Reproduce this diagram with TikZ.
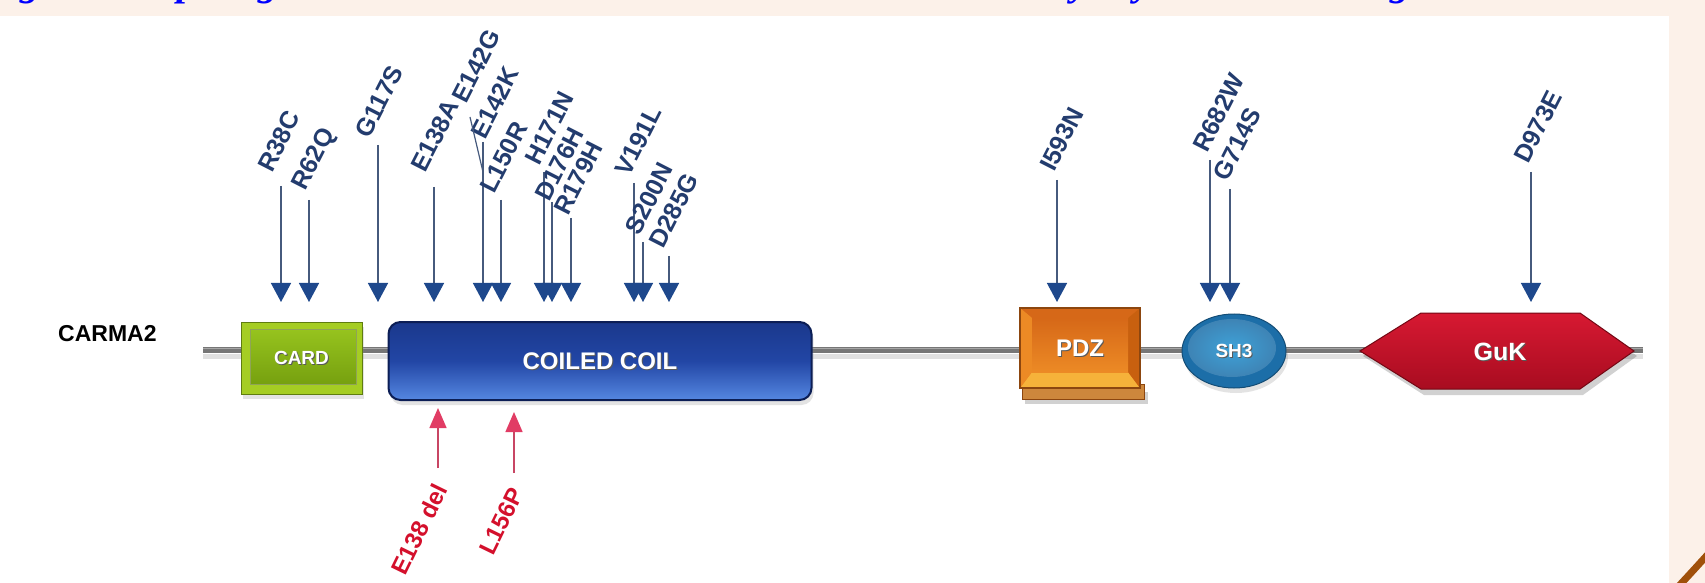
\documentclass[tikz,border=0pt]{standalone}
\usepackage{fontspec}
\setmainfont{Liberation Sans}
\newfontfamily\titleserif{Liberation Serif}
\usetikzlibrary{arrows.meta,shadows,shapes.geometric}
\definecolor{bgbeige}{RGB}{252,241,233}
\definecolor{titleblue}{RGB}{0,0,255}
\definecolor{labnavy}{RGB}{35,60,110}
\definecolor{mutgray}{RGB}{70,90,125}
\definecolor{headblue}{RGB}{30,72,140}
\definecolor{labred}{RGB}{212,16,44}
\definecolor{linered}{RGB}{200,70,100}
\definecolor{headred}{RGB}{225,60,100}
\definecolor{brownline}{RGB}{160,80,10}
\definecolor{bbgray}{RGB}{118,118,118}
\definecolor{cardOuter}{RGB}{165,205,35}
\definecolor{cardEdge}{RGB}{95,125,15}
\definecolor{cardTop}{RGB}{150,195,30}
\definecolor{cardBot}{RGB}{118,160,15}
\definecolor{ccTop}{RGB}{26,56,140}
\definecolor{ccMid}{RGB}{34,70,165}
\definecolor{ccBot}{RGB}{85,135,225}
\definecolor{ccEdge}{RGB}{12,30,85}
\definecolor{pdzFace}{RGB}{230,120,30}
\definecolor{pdzLight}{RGB}{246,178,58}
\definecolor{pdzDark}{RGB}{214,104,24}
\definecolor{pdzSide}{RGB}{236,138,37}
\definecolor{pdzRight}{RGB}{200,96,15}
\definecolor{pdzEdge}{RGB}{140,70,15}
\definecolor{pdzSlab}{RGB}{205,135,60}
\definecolor{shOuter}{RGB}{28,110,168}
\definecolor{shInner}{RGB}{62,162,216}
\definecolor{gukTop}{RGB}{215,25,50}
\definecolor{gukBot}{RGB}{168,12,32}
\definecolor{gukEdge}{RGB}{115,8,20}
\tikzset{
  mutlab/.style={text=labnavy, font=\bfseries\fontsize{12.5}{13}\selectfont, inner sep=0pt, rotate=63, anchor=base west},
  mutarrow/.style={draw=mutgray, line width=0.7pt, -{Triangle[width=10pt,length=9.5pt,color=headblue]}},
  redlab/.style={text=labred, font=\bfseries\fontsize{12}{13}\selectfont, inner sep=0pt, rotate=64, anchor=east},
  redarrow/.style={draw=linered, line width=0.7pt, -{Triangle[width=8.5pt,length=10pt,color=headred]}},
  domtext/.style={text=white, inner sep=0pt},
  domshade/.style={text=black!65, inner sep=0pt},
  frag/.style={text=titleblue, font=\titleserif\bfseries\itshape\fontsize{20}{22}\selectfont, inner sep=0pt, anchor=base},
  softshadow/.style={drop shadow={opacity=0.22, shadow xshift=1pt, shadow yshift=-2.5pt}}
}
\begin{document}
\begin{tikzpicture}[x=0.5pt,y=-0.5pt]
\useasboundingbox (0,0) rectangle (1705,583);
% background
\fill[bgbeige] (0,0) rectangle (1705,583);
\fill[white] (0,16) rectangle (1669,583);
\draw[brownline, line width=3.5pt] (1677,588) .. controls (1690,574) .. (1710,552);
% cut-off title fragments
\begin{scope}
\clip (0,0) rectangle (1705,16);
\foreach \x/\c [count=\i] in {30/g,187/p,268/g,1080/y,1143/y,1400/g}
  \node[frag] (frag\i) at (\x,-4) {\c};
\end{scope}
% backbone
\coordinate (bbL) at (203,350);
\coordinate (bbR) at (1643,350);
\draw[black!12, line width=2.5pt] ([yshift=-3pt]bbL) -- ([yshift=-3pt]bbR);
\draw[bbgray, line width=2.8pt] (bbL) -- (bbR);
\draw[black!35, line width=0.8pt] ([yshift=0.7pt]bbL) -- ([yshift=0.7pt]bbR);
% protein label
\node[anchor=base east, font=\bfseries\fontsize{11.5}{12}\selectfont, inner sep=0pt] (carma) at (157,342) {CARMA2};
% CARD
\node[draw=cardEdge, line width=0.5pt, fill=cardOuter, minimum width=60.5pt, minimum height=36pt, inner sep=0pt, softshadow] (card) at (301.5,358) {};
\shade[top color=cardTop, bottom color=cardBot, draw=cardEdge!70, line width=0.4pt] ([shift={(5pt,-4pt)}]card.north west) rectangle ([shift={(-3pt,5pt)}]card.south east);
\node[domshade, font=\bfseries\fontsize{9.5}{10}\selectfont] (cardsh) at ([shift={(0.5pt,-0.5pt)}]card.center) {CARD};
\node[domtext, font=\bfseries\fontsize{9.5}{10}\selectfont] (cardtx) at (card.center) {CARD};
% COILED COIL
\node[rounded corners=6pt, draw=ccEdge, line width=1pt, top color=ccTop, bottom color=ccBot, middle color=ccMid, minimum width=211.5pt, minimum height=39pt, inner sep=0pt, softshadow] (cc) at (600,361) {};
\node[domshade, font=\bfseries\fontsize{12}{13}\selectfont] (ccsh) at ([shift={(0.5pt,-0.5pt)}]cc.center) {COILED COIL};
\node[domtext, font=\bfseries\fontsize{12}{13}\selectfont] (cctx) at (cc.center) {COILED COIL};
% PDZ
\fill[black, opacity=0.18] (1025,392) rectangle (1148,404);
\fill[pdzSlab, draw=pdzEdge, line width=0.5pt] (1022,384) rectangle (1144,399);
\node[fill=pdzFace, draw=pdzEdge, line width=0.5pt, minimum width=60pt, minimum height=40pt, inner sep=0pt] (pdz) at (1080,348) {};
\fill[pdzDark] (1020,308) -- (1140,308) -- (1128,318) -- (1032,318) -- cycle;
\fill[pdzLight] (1020,388) -- (1140,388) -- (1128,372) -- (1032,372) -- cycle;
\fill[pdzSide] (1020,308) -- (1032,318) -- (1032,372) -- (1020,388) -- cycle;
\fill[pdzRight] (1140,308) -- (1128,318) -- (1128,372) -- (1140,388) -- cycle;
\shade[top color=pdzDark, bottom color=pdzSide] (1032,318) rectangle (1128,372);
\draw[pdzEdge, line width=0.6pt] (1020,308) rectangle (1140,388);
\node[domshade, font=\bfseries\fontsize{12}{13}\selectfont] (pdzsh) at ([shift={(0.5pt,-0.5pt)}]pdz.center) {PDZ};
\node[domtext, font=\bfseries\fontsize{12}{13}\selectfont] (pdztx) at (pdz.center) {PDZ};
% SH3
\node[ellipse, fill=shOuter, draw=shOuter!70!black, line width=0.5pt, minimum width=52pt, minimum height=37pt, inner sep=0pt, softshadow] (sh3) at (1234,351) {};
\shade[inner color=shInner, outer color=shOuter!85!white] ([shift={(-1pt,1.5pt)}]sh3.center) ellipse [x radius=22pt, y radius=14.5pt];
\node[domshade, font=\bfseries\fontsize{9.5}{10}\selectfont] (sh3sh) at ([shift={(0.5pt,-0.5pt)}]sh3.center) {SH3};
\node[domtext, font=\bfseries\fontsize{9.5}{10}\selectfont] (sh3tx) at (sh3.center) {SH3};
% GuK
\fill[black, opacity=0.18] (1363,356) -- (1424,318) -- (1583,318) -- (1637,356) -- (1583,395) -- (1424,395) -- cycle;
\shade[top color=gukTop, bottom color=gukBot, draw=gukEdge, line width=0.5pt] (1360,351) -- (1421,313) -- (1580,313) -- (1634,351) -- (1580,389) -- (1421,389) -- cycle;
\node[domshade, font=\bfseries\fontsize{12.5}{13}\selectfont] (guksh) at (1501,353) {GuK};
\node[domtext, font=\bfseries\fontsize{12.5}{13}\selectfont] (guk) at (1500,352) {GuK};
% mutations above
\foreach \n/\x/\t/\lx/\ly/\lab in {
  a/281/186/272/174/R38C,
  b/309/200/305/192/R62Q,
  c/378/145/369/140/G117S,
  d/434/187/425/174/E138A,
  f/483/142/485/141/E142K,
  g/501/200/494/195/L150R,
  h/544/172/539/167/H171N,
  i/552/202/549/203/D176H,
  j/571/218/568/217/R179H,
  k/634/183/629/178/V191L,
  l/643/242/639/237/S200N,
  m/669/256/663/250/D285G,
  n/1057/180/1054/173/I593N,
  o/1210/160/1207/154/R682W,
  p/1230/189/1227/183/G714S,
  q/1531/172/1528/165/D973E}
{
  \coordinate (t\n) at (\x,\t);
  \coordinate (h\n) at (\x,302);
  \draw[mutarrow] (t\n) -- (h\n);
  \node[mutlab] (l\n) at (\lx,\ly) {\lab};
}
\node[mutlab] (le) at (466,105) {E142G};
\coordinate (e1) at (470,117);
\coordinate (e2) at (483,172);
\draw[mutgray, line width=0.6pt] (e1) -- (e2);
% mutations below
\coordinate (rb1) at (438,468);
\coordinate (rt1) at (438,408);
\draw[redarrow] (rb1) -- (rt1);
\node[redlab] (r1) at (441,485) {E138 del};
\coordinate (rb2) at (514,473);
\coordinate (rt2) at (514,412);
\draw[redarrow] (rb2) -- (rt2);
\node[redlab] (r2) at (517,489) {L156P};
\end{tikzpicture}
\end{document}
